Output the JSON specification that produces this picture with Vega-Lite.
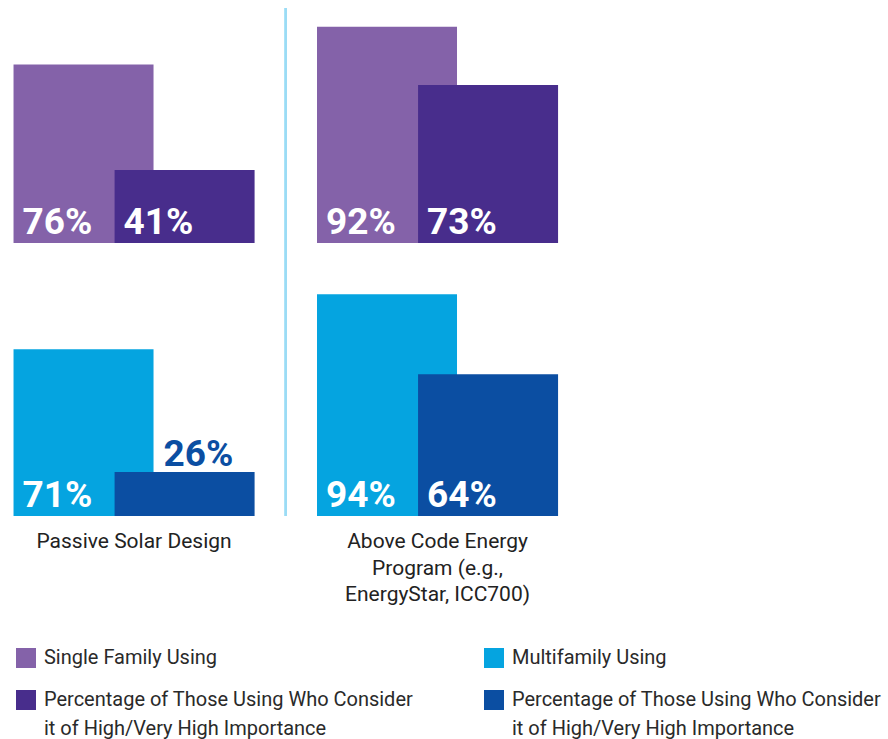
{
  "$schema": "https://vega.github.io/schema/vega-lite/v6.json",
  "padding": {"left": 13, "top": 7, "right": 0, "bottom": 0},
  "background": "white",
  "config": {"view": {"stroke": null}, "font": "Roboto", "style": {"guide-label": {"lineHeight": 29}}},
  "data": {"values": [
    {"category": "Passive Solar Design", "group": "Single Family", "series": "Using", "key": "Single Family Using", "pct": 0.76, "share": 76},
    {"category": "Passive Solar Design", "group": "Single Family", "series": "Importance", "key": "Single Family Importance", "pct": 0.41, "share": 31.1},
    {"category": "Above Code Energy Program (e.g., EnergyStar, ICC700)", "group": "Single Family", "series": "Using", "key": "Single Family Using", "pct": 0.92, "share": 92},
    {"category": "Above Code Energy Program (e.g., EnergyStar, ICC700)", "group": "Single Family", "series": "Importance", "key": "Single Family Importance", "pct": 0.73, "share": 67.2},
    {"category": "Passive Solar Design", "group": "Multifamily", "series": "Using", "key": "Multifamily Using", "pct": 0.71, "share": 71},
    {"category": "Passive Solar Design", "group": "Multifamily", "series": "Importance", "key": "Multifamily Importance", "pct": 0.26, "share": 18.7},
    {"category": "Above Code Energy Program (e.g., EnergyStar, ICC700)", "group": "Multifamily", "series": "Using", "key": "Multifamily Using", "pct": 0.94, "share": 94.4},
    {"category": "Above Code Energy Program (e.g., EnergyStar, ICC700)", "group": "Multifamily", "series": "Importance", "key": "Multifamily Importance", "pct": 0.64, "share": 60.3}
  ]},
  "bounds": "flush",
  "spacing": 38,
  "vconcat": [
    {
      "width": 545.6,
      "height": 235,
      "transform": [{"filter": "datum.group == 'Single Family'"}],
      "encoding": {
        "x": {"field": "category", "type": "nominal", "sort": ["Passive Solar Design", "Above Code Energy Program (e.g., EnergyStar, ICC700)"], "scale": {"paddingInner": 0.334, "paddingOuter": 0.0659}, "axis": null},
        "y": {"field": "share", "type": "quantitative", "scale": {"domain": [0, 100]}, "axis": null}
      },
      "layer": [
        {
          "mark": {"type": "bar", "width": 140},
          "encoding": {
            "xOffset": {"field": "series", "type": "nominal", "sort": ["Using", "Importance"], "scale": {"paddingInner": 0, "paddingOuter": 0}},
            "color": {"field": "key", "type": "nominal",
              "scale": {"domain": ["Single Family Using", "Single Family Importance", "Multifamily Using", "Multifamily Importance"], "range": ["#8462A9", "#482D8C", "#05A4E0", "#0B4EA2"]},
              "legend": {"title": null, "orient": "none", "legendX": 3, "legendY": 640, "columns": 2, "symbolType": "square", "symbolSize": 400, "symbolStrokeWidth": 0, "symbolOpacity": 1, "labelFontSize": 20, "labelColor": "#2a2a2a", "labelFont": "Roboto", "labelLimit": 500, "columnPadding": 70, "rowPadding": 22, "labelOffset": 8, "padding": 0,
                "labelExpr": "indexof(datum.value, 'Importance') >= 0 ? ['Percentage of Those Using Who Consider', 'it of High/Very High Importance'] : datum.value"}
            }
          }
        },
        {
          "transform": [{"filter": "datum.share >= 25"}],
          "mark": {"type": "text", "align": "left", "baseline": "alphabetic", "dx": -61, "dy": -9, "fontSize": 37, "fontWeight": "bold", "color": "white"},
          "encoding": {
            "xOffset": {"field": "series", "type": "nominal", "sort": ["Using", "Importance"]},
            "y": {"datum": 0},
            "text": {"field": "pct", "type": "quantitative", "format": ".0%"}
          }
        },
        {
          "mark": {"type": "rule", "color": "#9BDCF5", "strokeWidth": 2},
          "encoding": {
            "x": {"datum": "Passive Solar Design", "bandPosition": 1.25},
            "y": {"datum": 100},
            "y2": {"datum": -16.2}
          }
        }
      ]
    },
    {
      "width": 545.6,
      "height": 235,
      "transform": [{"filter": "datum.group == 'Multifamily'"}],
      "encoding": {
        "x": {"field": "category", "type": "nominal", "sort": ["Passive Solar Design", "Above Code Energy Program (e.g., EnergyStar, ICC700)"], "scale": {"paddingInner": 0.334, "paddingOuter": 0.0659},
          "axis": {"title": null, "domain": false, "ticks": false, "labelAngle": 0, "labelFontSize": 21, "labelColor": "#222222", "labelPadding": 15, "labelLineHeight": 26.5, "labelBaseline": "top", "labelLimit": 400,
            "labelExpr": "datum.value == 'Passive Solar Design' ? datum.value : ['Above Code Energy', 'Program (e.g.,', 'EnergyStar, ICC700)']"}},
        "y": {"field": "share", "type": "quantitative", "scale": {"domain": [0, 100]}, "axis": null}
      },
      "layer": [
        {
          "mark": {"type": "bar", "width": 140},
          "encoding": {
            "xOffset": {"field": "series", "type": "nominal", "sort": ["Using", "Importance"], "scale": {"paddingInner": 0, "paddingOuter": 0}},
            "color": {"field": "key", "type": "nominal"}
          }
        },
        {
          "transform": [{"filter": "datum.share >= 25"}],
          "mark": {"type": "text", "align": "left", "baseline": "alphabetic", "dx": -61, "dy": -9, "fontSize": 37, "fontWeight": "bold", "color": "white"},
          "encoding": {
            "xOffset": {"field": "series", "type": "nominal", "sort": ["Using", "Importance"]},
            "y": {"datum": 0},
            "text": {"field": "pct", "type": "quantitative", "format": ".0%"}
          }
        },
        {
          "transform": [{"filter": "datum.share < 25"}],
          "mark": {"type": "text", "align": "left", "baseline": "alphabetic", "dx": -21, "dy": -6, "fontSize": 37, "fontWeight": "bold", "color": "#0B4EA2"},
          "encoding": {
            "xOffset": {"field": "series", "type": "nominal", "sort": ["Using", "Importance"]},
            "text": {"field": "pct", "type": "quantitative", "format": ".0%"}
          }
        },
        {
          "mark": {"type": "rule", "color": "#9BDCF5", "strokeWidth": 2},
          "encoding": {
            "x": {"datum": "Passive Solar Design", "bandPosition": 1.25},
            "y": {"datum": 100},
            "y2": {"datum": 0}
          }
        }
      ]
    }
  ]
}
